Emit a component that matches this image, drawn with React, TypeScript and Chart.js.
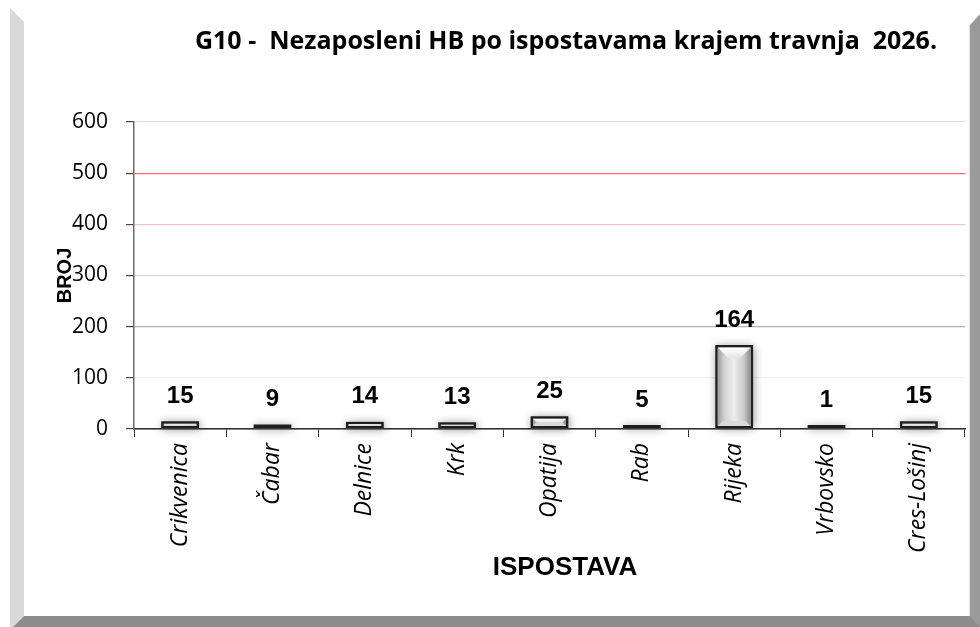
import React, { useEffect, useRef } from "react";
import { Chart, registerables } from "chart.js";

Chart.register(...registerables);

const categories = ["Crikvenica", "Čabar", "Delnice", "Krk", "Opatija", "Rab", "Rijeka", "Vrbovsko", "Cres-Lošinj"];
const values = [15, 9, 14, 13, 25, 5, 164, 1, 15];
const yMin = 0;
const yMax = 600;
const yStep = 100;
const titleText = "G10 -  Nezaposleni HB po ispostavama krajem travnja  2026.";
const yTitle = "BROJ";
const xTitle = "ISPOSTAVA";

const gridColors = ["#555555", "#eeeeee", "#a8b2bf", "#d6d6d6", "#f5c0c6", "#ff6f6f", "#d6e2f0"];

const W = 980;
const H = 627;

const framePlugin = {
  id: "frame",
  beforeDraw(chart: any) {
    const ctx = chart.ctx;
    ctx.save();
    ctx.fillStyle = "#ffffff";
    ctx.fillRect(0, 0, W, H);
    ctx.fillStyle = "#d9d9d9";
    ctx.beginPath();
    ctx.moveTo(10, 8);
    ctx.lineTo(24, 22);
    ctx.lineTo(24, 616);
    ctx.lineTo(13, 627);
    ctx.lineTo(10, 627);
    ctx.closePath();
    ctx.fill();
    ctx.fillStyle = "#9a9a9a";
    ctx.beginPath();
    ctx.moveTo(970, 25);
    ctx.lineTo(980, 14);
    ctx.lineTo(980, 627);
    ctx.lineTo(970, 627);
    ctx.closePath();
    ctx.fill();
    ctx.fillStyle = "#8c8c8c";
    ctx.beginPath();
    ctx.moveTo(24, 616);
    ctx.lineTo(970, 616);
    ctx.lineTo(980, 627);
    ctx.lineTo(13, 627);
    ctx.closePath();
    ctx.fill();
    ctx.fillStyle = "#e4e4e4";
    ctx.fillRect(969, 25, 1, 591);
    ctx.restore();
  },
  beforeDatasetsDraw(chart: any) {
    const ctx = chart.ctx;
    const meta = chart.getDatasetMeta(0);
    ctx.save();
    ctx.shadowColor = "rgba(0,0,0,0.45)";
    ctx.shadowBlur = 9;
    ctx.shadowOffsetX = 1;
    ctx.shadowOffsetY = 1;
    ctx.fillStyle = "#777777";
    meta.data.forEach((el: any) => {
      const w = el.width;
      ctx.fillRect(el.x - w / 2, el.y, w, el.base - el.y);
    });
    ctx.restore();
  },
  afterDatasetsDraw(chart: any) {
    const ctx = chart.ctx;
    const meta = chart.getDatasetMeta(0);
    meta.data.forEach((el: any, i: number) => {
      const b = 2.5;
      const ix = el.x - el.width / 2 + b;
      const iw = el.width - 2 * b;
      const iy = el.y + b;
      const ih = el.base - el.y - 2 * b;
      if (ih > 1) {
        ctx.save();
        ctx.beginPath();
        ctx.rect(ix, iy, iw, ih);
        ctx.clip();
        const g = ctx.createLinearGradient(ix, 0, ix + iw, 0);
        g.addColorStop(0, "#9c9c9c");
        g.addColorStop(0.2, "#d2d2d2");
        g.addColorStop(0.5, "#ededed");
        g.addColorStop(0.8, "#c9c9c9");
        g.addColorStop(1, "#8a8a8a");
        ctx.fillStyle = g;
        ctx.fillRect(ix, iy, iw, ih);
        const d = Math.min(iw * 0.32, ih / 2);
        const gt = ctx.createLinearGradient(0, iy, 0, iy + d);
        gt.addColorStop(0, "#ffffff");
        gt.addColorStop(1, "#e6e6e6");
        ctx.fillStyle = gt;
        ctx.beginPath();
        ctx.moveTo(ix, iy);
        ctx.lineTo(ix + iw, iy);
        ctx.lineTo(ix + iw - d, iy + d);
        ctx.lineTo(ix + d, iy + d);
        ctx.closePath();
        ctx.fill();
        const db = Math.min(iw * 0.15, ih / 2);
        ctx.fillStyle = "#d9d9d9";
        ctx.beginPath();
        ctx.moveTo(ix, iy + ih);
        ctx.lineTo(ix + db, iy + ih - db);
        ctx.lineTo(ix + iw - db, iy + ih - db);
        ctx.lineTo(ix + iw, iy + ih);
        ctx.closePath();
        ctx.fill();
        ctx.restore();
      }
      ctx.save();
      ctx.font = "bold 24px 'Liberation Sans', Arial, sans-serif";
      ctx.fillStyle = "#000000";
      ctx.textAlign = "center";
      ctx.textBaseline = "middle";
      const top = Math.min(el.y, el.base);
      ctx.fillText(String(values[i]), el.x, top - 25);
      ctx.restore();
    });
  },
  afterDraw(chart: any) {
    const ctx = chart.ctx;
    ctx.save();
    ctx.fillStyle = "#000000";
    ctx.textAlign = "center";
    ctx.textBaseline = "middle";
    ctx.font = "bold 25px 'Open Sans', sans-serif";
    ctx.fillText(titleText, 566, 42);
    ctx.font = "bold 26px 'Liberation Sans', Arial, sans-serif";
    ctx.fillText(xTitle, 565, 568);
    ctx.restore();
  },
};

export default function App() {
  const ref = useRef<HTMLCanvasElement | null>(null);
  useEffect(() => {
    document.body.style.margin = "0";
    const canvas = ref.current;
    if (!canvas) return;
    const chart = new Chart(canvas, {
      type: "bar",
      data: {
        labels: categories,
        datasets: [
          {
            data: values,
            backgroundColor: "#cfcfcf",
            borderColor: "#1e1e1e",
            borderWidth: 2.5,
            borderSkipped: false,
            barPercentage: 0.41,
            categoryPercentage: 1,
            minBarLength: 4,
          },
        ],
      },
      options: {
        responsive: false,
        animation: false,
        events: [],
        layout: { padding: { left: 24, right: 15, top: 122, bottom: 11 } },
        plugins: {
          legend: { display: false },
          title: { display: false },
          tooltip: { enabled: false },
        },
        scales: {
          x: {
            grid: {
              offset: true,
              drawOnChartArea: false,
              drawTicks: true,
              tickLength: 8,
              tickColor: "#333333",
            },
            border: { color: "#333333", width: 1.5 },
            ticks: {
              autoSkip: false,
              maxRotation: 90,
              minRotation: 90,
              padding: 6,
              color: "#000000",
              font: { family: "'Open Sans', sans-serif", style: "italic", size: 23 },
            },
            afterFit(scale: any) {
              scale.height = H - 11 - 429;
            },
          },
          y: {
            min: yMin,
            max: yMax,
            ticks: {
              stepSize: yStep,
              padding: 18,
              color: "#000000",
              font: { family: "'Open Sans', sans-serif", size: 21 },
            },
            grid: {
              color: (c: any) => gridColors[c.index] || "#dddddd",
              tickColor: "#444444",
              tickLength: 8,
              lineWidth: 1.2,
            },
            border: { color: "#6a6a6a", width: 1.5 },
            title: {
              display: true,
              text: yTitle,
              color: "#000000",
              font: { family: "'Liberation Sans', Arial, sans-serif", weight: "bold", size: 20 },
              padding: { top: 29, bottom: 0 },
            },
            afterFit(scale: any) {
              scale.width = 110;
            },
          },
        },
      },
      plugins: [framePlugin],
    });
    return () => chart.destroy();
  }, []);
  return (
    <div style={{ width: W, height: H, position: "relative" }}>
      <canvas ref={ref} width={W} height={H} style={{ display: "block" }} />
    </div>
  );
}
